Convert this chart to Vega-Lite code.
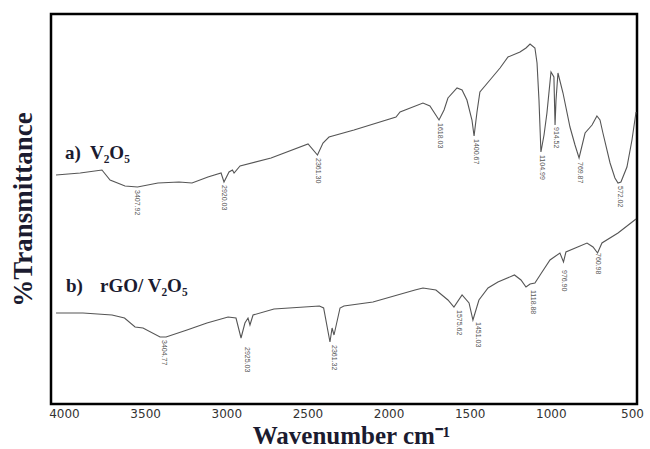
{
  "$schema": "https://vega.github.io/schema/vega-lite/v6.json",
  "width": 586,
  "height": 390,
  "autosize": {"type": "none"},
  "padding": {"left": 51, "top": 14, "right": 13, "bottom": 45},
  "background": "white",
  "config": {
    "view": {"stroke": "#000", "strokeWidth": 2.5},
    "axis": {"grid": false}
  },
  "datasets": {
    "spectra": [
      {"series": "a", "wn": 4049, "t": 229},
      {"series": "a", "wn": 3900, "t": 231},
      {"series": "a", "wn": 3766, "t": 234},
      {"series": "a", "wn": 3716, "t": 224},
      {"series": "a", "wn": 3624, "t": 218},
      {"series": "a", "wn": 3547, "t": 217},
      {"series": "a", "wn": 3421, "t": 221},
      {"series": "a", "wn": 3291, "t": 222},
      {"series": "a", "wn": 3211, "t": 221},
      {"series": "a", "wn": 3113, "t": 227},
      {"series": "a", "wn": 3032, "t": 231},
      {"series": "a", "wn": 3014, "t": 222},
      {"series": "a", "wn": 2983, "t": 232},
      {"series": "a", "wn": 2962, "t": 234},
      {"series": "a", "wn": 2952, "t": 231},
      {"series": "a", "wn": 2915, "t": 238},
      {"series": "a", "wn": 2724, "t": 246},
      {"series": "a", "wn": 2496, "t": 260},
      {"series": "a", "wn": 2438, "t": 249},
      {"series": "a", "wn": 2404, "t": 261},
      {"series": "a", "wn": 2367, "t": 267},
      {"series": "a", "wn": 2213, "t": 274},
      {"series": "a", "wn": 1954, "t": 287},
      {"series": "a", "wn": 1929, "t": 292},
      {"series": "a", "wn": 1788, "t": 301},
      {"series": "a", "wn": 1745, "t": 298},
      {"series": "a", "wn": 1689, "t": 284},
      {"series": "a", "wn": 1658, "t": 294},
      {"series": "a", "wn": 1634, "t": 306},
      {"series": "a", "wn": 1578, "t": 316},
      {"series": "a", "wn": 1547, "t": 314},
      {"series": "a", "wn": 1517, "t": 304},
      {"series": "a", "wn": 1486, "t": 284},
      {"series": "a", "wn": 1473, "t": 268},
      {"series": "a", "wn": 1455, "t": 292},
      {"series": "a", "wn": 1437, "t": 312},
      {"series": "a", "wn": 1375, "t": 324},
      {"series": "a", "wn": 1313, "t": 336},
      {"series": "a", "wn": 1264, "t": 347},
      {"series": "a", "wn": 1190, "t": 352},
      {"series": "a", "wn": 1153, "t": 356},
      {"series": "a", "wn": 1128, "t": 360},
      {"series": "a", "wn": 1098, "t": 356},
      {"series": "a", "wn": 1085, "t": 341},
      {"series": "a", "wn": 1073, "t": 304},
      {"series": "a", "wn": 1061, "t": 252},
      {"series": "a", "wn": 1042, "t": 269},
      {"series": "a", "wn": 1024, "t": 291},
      {"series": "a", "wn": 999, "t": 332},
      {"series": "a", "wn": 981, "t": 327},
      {"series": "a", "wn": 974, "t": 279},
      {"series": "a", "wn": 968, "t": 304},
      {"series": "a", "wn": 956, "t": 331},
      {"series": "a", "wn": 925, "t": 311},
      {"series": "a", "wn": 882, "t": 277},
      {"series": "a", "wn": 851, "t": 259},
      {"series": "a", "wn": 826, "t": 246},
      {"series": "a", "wn": 789, "t": 271},
      {"series": "a", "wn": 746, "t": 279},
      {"series": "a", "wn": 716, "t": 288},
      {"series": "a", "wn": 697, "t": 284},
      {"series": "a", "wn": 679, "t": 271},
      {"series": "a", "wn": 635, "t": 241},
      {"series": "a", "wn": 605, "t": 226},
      {"series": "a", "wn": 586, "t": 221},
      {"series": "a", "wn": 568, "t": 222},
      {"series": "a", "wn": 531, "t": 237},
      {"series": "a", "wn": 500, "t": 264},
      {"series": "a", "wn": 475, "t": 292},
      {"series": "b", "wn": 4049, "t": 91},
      {"series": "b", "wn": 3883, "t": 91},
      {"series": "b", "wn": 3704, "t": 89},
      {"series": "b", "wn": 3627, "t": 86},
      {"series": "b", "wn": 3562, "t": 77},
      {"series": "b", "wn": 3513, "t": 76},
      {"series": "b", "wn": 3408, "t": 67},
      {"series": "b", "wn": 3371, "t": 67},
      {"series": "b", "wn": 3242, "t": 74},
      {"series": "b", "wn": 3119, "t": 81},
      {"series": "b", "wn": 2989, "t": 87},
      {"series": "b", "wn": 2940, "t": 86},
      {"series": "b", "wn": 2909, "t": 66},
      {"series": "b", "wn": 2885, "t": 81},
      {"series": "b", "wn": 2866, "t": 86},
      {"series": "b", "wn": 2854, "t": 79},
      {"series": "b", "wn": 2835, "t": 89},
      {"series": "b", "wn": 2706, "t": 95},
      {"series": "b", "wn": 2426, "t": 98},
      {"series": "b", "wn": 2400, "t": 96},
      {"series": "b", "wn": 2361, "t": 62},
      {"series": "b", "wn": 2348, "t": 76},
      {"series": "b", "wn": 2336, "t": 69},
      {"series": "b", "wn": 2299, "t": 96},
      {"series": "b", "wn": 2275, "t": 98},
      {"series": "b", "wn": 2096, "t": 102},
      {"series": "b", "wn": 1837, "t": 114},
      {"series": "b", "wn": 1788, "t": 116},
      {"series": "b", "wn": 1708, "t": 114},
      {"series": "b", "wn": 1634, "t": 104},
      {"series": "b", "wn": 1597, "t": 97},
      {"series": "b", "wn": 1547, "t": 109},
      {"series": "b", "wn": 1504, "t": 101},
      {"series": "b", "wn": 1480, "t": 84},
      {"series": "b", "wn": 1443, "t": 104},
      {"series": "b", "wn": 1387, "t": 116},
      {"series": "b", "wn": 1326, "t": 122},
      {"series": "b", "wn": 1224, "t": 129},
      {"series": "b", "wn": 1184, "t": 124},
      {"series": "b", "wn": 1153, "t": 117},
      {"series": "b", "wn": 1128, "t": 120},
      {"series": "b", "wn": 1098, "t": 121},
      {"series": "b", "wn": 1058, "t": 131},
      {"series": "b", "wn": 1005, "t": 144},
      {"series": "b", "wn": 944, "t": 151},
      {"series": "b", "wn": 922, "t": 142},
      {"series": "b", "wn": 907, "t": 152},
      {"series": "b", "wn": 777, "t": 161},
      {"series": "b", "wn": 740, "t": 157},
      {"series": "b", "wn": 712, "t": 151},
      {"series": "b", "wn": 685, "t": 161},
      {"series": "b", "wn": 586, "t": 171},
      {"series": "b", "wn": 475, "t": 185}
    ],
    "peaks": [
      {"wn": 3550, "t": 214, "label": "3407.92"},
      {"wn": 3014, "t": 219, "label": "2920.03"},
      {"wn": 2435, "t": 246, "label": "2361.30"},
      {"wn": 1683, "t": 281, "label": "1618.03"},
      {"wn": 1461, "t": 265, "label": "1400.67"},
      {"wn": 1055, "t": 249, "label": "1104.99"},
      {"wn": 968, "t": 277, "label": "914.52"},
      {"wn": 820, "t": 242, "label": "769.87"},
      {"wn": 574, "t": 218, "label": "572.02"},
      {"wn": 3384, "t": 64, "label": "3404.77"},
      {"wn": 2872, "t": 57, "label": "2925.03"},
      {"wn": 2336, "t": 59, "label": "2361.32"},
      {"wn": 1566, "t": 94, "label": "1575.62"},
      {"wn": 1449, "t": 82, "label": "1451.03"},
      {"wn": 1110, "t": 114, "label": "1118.88"},
      {"wn": 919, "t": 134, "label": "976.90"},
      {"wn": 709, "t": 151, "label": "760.98"}
    ],
    "tags": [
      {"wn": 3994, "t": 245, "tag": "a)", "name": "V₂O₅", "nwn": 3840},
      {"wn": 3988, "t": 112, "tag": "b)", "name": "rGO/ V₂O₅", "nwn": 3778}
    ]
  },
  "layer": [
    {
      "data": {"name": "spectra"},
      "mark": {"type": "line", "color": "#555555", "strokeWidth": 1.1, "interpolate": "linear"},
      "encoding": {
        "x": {
          "field": "wn", "type": "quantitative",
          "scale": {"domain": [4080, 469], "nice": false, "zero": false},
          "axis": {
            "values": [4000, 3500, 3000, 2500, 2000, 1500, 1000, 500],
            "format": "d", "ticks": false, "domain": false,
            "labelFont": "DejaVu Sans", "labelFontSize": 12, "labelColor": "#333333",
            "labelPadding": 4,
            "title": "Wavenumber cm⁻¹",
            "titleFont": "Liberation Serif", "titleFontSize": 25, "titleFontWeight": "bold",
            "titleColor": "#1b1b30", "titleBaseline": "alphabetic", "titleY": 39, "titleX": 300
          }
        },
        "y": {
          "field": "t", "type": "quantitative",
          "scale": {"domain": [0, 390], "nice": false, "zero": false},
          "axis": {
            "labels": false, "ticks": false, "domain": false,
            "title": "%Transmittance",
            "titleFont": "Liberation Serif", "titleFontSize": 27, "titleFontWeight": "bold",
            "titleColor": "#1b1b30", "titlePadding": 14
          }
        },
        "detail": {"field": "series", "type": "nominal"}
      }
    },
    {
      "data": {"name": "peaks"},
      "mark": {"type": "text", "angle": 90, "align": "left", "baseline": "middle", "font": "Liberation Sans", "fontSize": 7, "color": "#555555"},
      "encoding": {
        "x": {"field": "wn", "type": "quantitative"},
        "y": {"field": "t", "type": "quantitative"},
        "text": {"field": "label"}
      }
    },
    {
      "data": {"name": "tags"},
      "mark": {"type": "text", "align": "left", "baseline": "alphabetic", "font": "Liberation Serif", "fontWeight": "bold", "fontSize": 19, "color": "#1b1b30"},
      "encoding": {
        "x": {"field": "wn", "type": "quantitative"},
        "y": {"field": "t", "type": "quantitative"},
        "text": {"field": "tag"}
      }
    },
    {
      "data": {"name": "tags"},
      "mark": {"type": "text", "align": "left", "baseline": "alphabetic", "font": "Liberation Serif", "fontWeight": "bold", "fontSize": 19, "color": "#1b1b30"},
      "encoding": {
        "x": {"field": "nwn", "type": "quantitative"},
        "y": {"field": "t", "type": "quantitative"},
        "text": {"field": "name"}
      }
    }
  ]
}
